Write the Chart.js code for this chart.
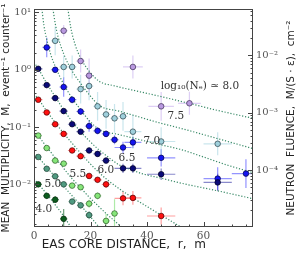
<!DOCTYPE html>
<html>
<head>
<meta charset="utf-8">
<script src="https://cdn.jsdelivr.net/npm/chart.js@4.4.1/dist/chart.umd.min.js"></script>
<style>
  html, body { margin: 0; padding: 0; background: #fff; }
</style>
</head>
<body>
<canvas id="chart" width="299" height="253"></canvas>
<script>
// core distance r (m), mean multiplicity M, error half-widths (dr in m, dm in decades)
const r40 = [1.5, 4.5, 7.5, 10.5];
const m40 = [0.0100, 0.0063, 0.0054, 0.0025];
const dr40 = [1.3, 1.3, 1.3, 1.3];
const dm40 = [0.04, 0.05, 0.06, 0.17];

const r50 = [1.5, 4.5, 7.5, 10.5, 13.5, 16.5, 19.5];
const m50 = [0.030, 0.0187, 0.0138, 0.0100, 0.0050, 0.0043, 0.0029];
const dr50 = [1.3, 1.3, 1.3, 1.3, 1.3, 1.3, 1.3];
const dm50 = [0.03, 0.03, 0.03, 0.04, 0.05, 0.05, 0.07];

const r55 = [1.5, 4.5, 7.5, 10.5, 13.5, 16.5, 19.5, 22.5, 25.5, 28.5];
const m55 = [0.071, 0.043, 0.026, 0.023, 0.0095, 0.0089, 0.0046, 0.0063, 0.0023, 0.0031];
const dr55 = [1.3, 1.3, 1.3, 1.3, 1.3, 1.3, 1.3, 1.3, 1.3, 1.3];
const dm55 = [0.03, 0.03, 0.03, 0.04, 0.04, 0.05, 0.07, 0.06, 0.12, 0.25];

const r60 = [1.5, 4.5, 7.5, 10.5, 13.5, 16.5, 19.5, 22.5, 25.5, 31.5, 35, 45];
const m60 = [0.30, 0.18, 0.112, 0.076, 0.039, 0.031, 0.014, 0.012, 0.010, 0.0057, 0.0058, 0.0028];
const dr60 = [1.5, 1.5, 1.5, 1.5, 1.5, 1.5, 1.5, 1.5, 1.5, 3, 3, 5];
const dm60 = [0.03, 0.03, 0.03, 0.03, 0.04, 0.04, 0.05, 0.05, 0.06, 0.12, 0.12, 0.15];

const r65 = [1.5, 4.5, 7.5, 10.5, 13.5, 16.5, 19.5, 22.5, 25.5, 31.5, 35, 45, 65];
const m65 = [1.04, 0.54, 0.32, 0.19, 0.112, 0.083, 0.039, 0.034, 0.026, 0.019, 0.019, 0.015, 0.0108];
const dr65 = [1.5, 1.5, 1.5, 1.5, 1.5, 1.5, 1.5, 1.5, 1.5, 3, 3, 5, 5];
const dm65 = [0.03, 0.03, 0.03, 0.03, 0.04, 0.04, 0.05, 0.05, 0.05, 0.08, 0.08, 0.1, 0.15];

const r70 = [4.5, 7.5, 10.5, 13.5, 16.5, 19.5, 22.5, 25.5, 28.5, 31.5, 35, 45, 65, 75];
const m70 = [2.45, 1.0, 0.50, 0.30, 0.187, 0.104, 0.086, 0.076, 0.060, 0.044, 0.054, 0.029, 0.0126, 0.0154];
const dr70 = [1.5, 1.5, 1.5, 1.5, 1.5, 1.5, 1.5, 1.5, 1.5, 3, 3, 5, 5, 5];
const dm70 = [0.17, 0.05, 0.17, 0.06, 0.06, 0.1, 0.06, 0.06, 0.08, 0.1, 0.1, 0.15, 0.2, 0.25];

const r75 = [7.5, 10.5, 13.5, 16.5, 19.5, 22.5, 25.5, 28.5, 31.5, 35, 45, 65];
const m75 = [3.2, 1.12, 1.12, 0.46, 0.52, 0.23, 0.166, 0.142, 0.154, 0.083, 0.056, 0.051];
const dr75 = [1.5, 1.5, 1.5, 1.5, 1.5, 1.5, 1.5, 1.5, 1.5, 3, 5, 5];
const dm75 = [0.25, 0.2, 0.2, 0.25, 0.25, 0.25, 0.25, 0.25, 0.25, 0.3, 0.25, 0.2];

const r80 = [10.5, 16.5, 19.5, 35, 45, 55];
const m80 = [4.8, 1.42, 0.79, 1.12, 0.23, 0.26];
const dr80 = [1.5, 1.5, 1.5, 3.5, 4.5, 4];
const dm80 = [0.1, 0.2, 0.3, 0.2, 0.25, 0.2];

// fitted curves
const fitR40 = [0, 1.5, 4.5, 7.5, 10.5, 13];
const fitM40 = [0.0125, 0.0102, 0.0068, 0.0044, 0.0028, 0.0018];
const fitR50 = [0, 1.5, 4.5, 7.5, 10.5, 13.5, 16.5, 19.5, 23];
const fitM50 = [0.036, 0.030, 0.020, 0.0135, 0.0092, 0.0063, 0.0043, 0.0029, 0.0018];
const fitR55 = [0, 1.5, 4.5, 7.5, 10.5, 13.5, 16.5, 19.5, 22.5, 25.5, 28.5, 31.5];
const fitM55 = [0.085, 0.07, 0.045, 0.029, 0.019, 0.0125, 0.0087, 0.006, 0.0043, 0.0031, 0.0023, 0.0017];
const fitR60 = [0, 1.5, 4.5, 7.5, 10.5, 13.5, 16.5, 19.5, 22.5, 25.5, 30, 35, 40, 45, 52];
const fitM60 = [0.38, 0.31, 0.19, 0.12, 0.078, 0.052, 0.035, 0.024, 0.017, 0.0125, 0.0085, 0.0058, 0.0041, 0.0029, 0.0018];
const fitR65 = [0, 1.5, 4.5, 7.5, 10.5, 13.5, 16.5, 19.5, 22.5, 25.5, 30, 35, 38.5, 45, 51.6, 65, 77.5];
const fitM65 = [1.35, 1.05, 0.58, 0.34, 0.20, 0.125, 0.083, 0.058, 0.042, 0.032, 0.022, 0.0175, 0.0152, 0.0128, 0.0106, 0.0077, 0.0056];
const fitR70 = [2.8, 3.5, 4.5, 6, 7.5, 10.5, 13.5, 16.5, 19.5, 23.3, 30, 37, 44, 51.6, 60, 68, 77.5];
const fitM70 = [11.5, 6.0, 3.4, 1.8, 1.15, 0.56, 0.32, 0.2, 0.13, 0.09, 0.074, 0.061, 0.050, 0.041, 0.030, 0.022, 0.016];
const fitR75 = [6.7, 7.5, 8.5, 10.5, 13.5, 16.5, 19.5, 23.3, 30, 37, 44, 51.6, 65.4, 77.5];
const fitM75 = [11.5, 6.5, 3.8, 1.9, 0.95, 0.58, 0.37, 0.235, 0.19, 0.151, 0.12, 0.096, 0.062, 0.042];
const fitR80 = [12, 13, 14.5, 16.5, 19.5, 23.3, 28, 35, 45, 55.5, 65, 77.5];
const fitM80 = [11.5, 5.5, 2.8, 1.6, 0.95, 0.62, 0.53, 0.44, 0.34, 0.255, 0.195, 0.142];

// curve labels: log10(Ne) values and where they sit
const curveLabels = ['4.0', '5.0', '5.5', '6.0', '6.5', '7.0', '7.5', 'log\u2081\u2080(N\u2091) \u2243 8.0'];
const labelR = [3.5, 6.7, 15.5, 25.4, 32.9, 41.7, 50.2, 58.7];
const labelM = [0.0036, 0.0100, 0.0148, 0.0173, 0.029, 0.056, 0.154, 0.52];

const xTicks = [0, 20, 40, 60];
const yTickLabels = {'10': '10\u00b9', '1': '10\u2070', '0.1': '10\u207b\u00b9', '0.01': '10\u207b\u00b2'};
const y2TickLabels = {'0.01': '10\u207b\u00b2', '0.001': '10\u207b\u00b3', '0.0001': '10\u207b\u2074'};

const fluencePerM = Math.pow(10, -2.25);
const yMin = 0.0018, yMax = 11.5;

const pts = (rs, ms) => rs.map((r, i) => ({x: r, y: ms[i]}));

function series(label, rs, ms, drs, dms, fill, edge, errColor) {
    return {
        type: 'scatter', label: label, data: pts(rs, ms), order: 1,
        backgroundColor: fill, borderColor: edge, borderWidth: 0.7,
        pointRadius: 2.8, err: {dr: drs, dm: dms, color: errColor}
    };
}
function fit(rs, ms) {
    return {
        type: 'line', data: pts(rs, ms), order: 2, showLine: true,
        borderColor: '#3a8a68', borderWidth: 1.2, borderDash: [1.2, 1.8],
        pointRadius: 0, cubicInterpolationMode: 'monotone', fill: false
    };
}

const errorBars = {
    id: 'errorBars',
    beforeDatasetsDraw(chart) {
        const {ctx, chartArea: a, scales: {x, y}} = chart;
        ctx.save();
        ctx.beginPath(); ctx.rect(a.left, a.top, a.right - a.left, a.bottom - a.top); ctx.clip();
        chart.data.datasets.forEach(ds => {
            if (!ds.err) return;
            ctx.strokeStyle = ds.err.color;
            ctx.lineWidth = 1.2;
            ds.data.forEach((p, i) => {
                const px = x.getPixelForValue(p.x), py = y.getPixelForValue(p.y);
                const f = Math.pow(10, ds.err.dm[i]);
                ctx.beginPath();
                ctx.moveTo(x.getPixelForValue(p.x - ds.err.dr[i]), py);
                ctx.lineTo(x.getPixelForValue(p.x + ds.err.dr[i]), py);
                ctx.moveTo(px, y.getPixelForValue(p.y * f));
                ctx.lineTo(px, y.getPixelForValue(p.y / f));
                ctx.stroke();
            });
        });
        ctx.restore();
    }
};

const frame = {
    id: 'frame',
    afterDraw(chart) {
        const {ctx, chartArea: a, scales} = chart;
        ctx.save();
        ctx.strokeStyle = '#444';
        ctx.lineWidth = 1;
        ctx.strokeRect(a.left + 0.5, a.top + 0.5, a.right - a.left - 1, a.bottom - a.top - 1);
        const logTicks = (scale, x0, dir) => {
            const lo = Math.floor(Math.log10(scale.min)), hi = Math.ceil(Math.log10(scale.max));
            for (let e = lo; e <= hi; e++) {
                for (let k = 1; k < 10; k++) {
                    const v = k * Math.pow(10, e);
                    if (v < scale.min || v > scale.max) continue;
                    const yy = Math.round(scale.getPixelForValue(v)) + 0.5;
                    ctx.beginPath();
                    ctx.moveTo(x0, yy);
                    ctx.lineTo(x0 + dir * (k === 1 ? 5 : 2.5), yy);
                    ctx.stroke();
                }
            }
        };
        logTicks(scales.y, a.left, 1);
        logTicks(scales.y2, a.right, -1);
        for (let v = 0; v <= scales.x.max; v += 5) {
            const xx = Math.round(scales.x.getPixelForValue(v)) + 0.5;
            ctx.beginPath();
            ctx.moveTo(xx, a.bottom);
            ctx.lineTo(xx, a.bottom - (v % 20 === 0 ? 5 : 2.5));
            ctx.stroke();
        }
        // curve labels
        ctx.font = '10.5px "DejaVu Serif"';
        ctx.fillStyle = '#333';
        ctx.textAlign = 'center';
        ctx.textBaseline = 'middle';
        curveLabels.forEach((t, i) => {
            ctx.fillText(t, scales.x.getPixelForValue(labelR[i]), scales.y.getPixelForValue(labelM[i]));
        });
        // right axis title, reading bottom to top
        ctx.font = '10.5px "DejaVu Sans"';
        ctx.fillStyle = '#222';
        ctx.translate(291, (a.top + a.bottom) / 2);
        ctx.rotate(-Math.PI / 2);
        ctx.fillText('NEUTRON  FLUENCE,  M/(S \u00b7 \u03b5),  cm\u207b\u00b2', 0, 0);
        ctx.restore();
    }
};

const isDecade = v => Math.abs(Math.log10(v) - Math.round(Math.log10(v))) < 1e-6;

new Chart(document.getElementById('chart'), {
    data: {
        datasets: [
            fit(fitR40, fitM40), fit(fitR50, fitM50), fit(fitR55, fitM55), fit(fitR60, fitM60),
            fit(fitR65, fitM65), fit(fitR70, fitM70), fit(fitR75, fitM75), fit(fitR80, fitM80),
            series('4.0', r40, m40, dr40, dm40, '#0b5d1e', '#0a2a10', 'rgba(11,93,30,0.6)'),
            series('5.0', r50, m50, dr50, dm50, '#4f9a80', '#1f3f33', 'rgba(79,154,128,0.55)'),
            series('5.5', r55, m55, dr55, dm55, '#86e67a', '#2f5a2a', 'rgba(120,220,110,0.6)'),
            series('6.0', r60, m60, dr60, dm60, '#ff1010', '#4a0000', 'rgba(255,80,80,0.55)'),
            series('6.5', r65, m65, dr65, dm65, '#0a0a78', '#000020', 'rgba(40,40,160,0.55)'),
            series('7.0', r70, m70, dr70, dm70, '#1414f0', '#000040', 'rgba(60,60,255,0.55)'),
            series('7.5', r75, m75, dr75, dm75, '#9fd0dc', '#2a3f46', 'rgba(150,205,220,0.5)'),
            series('8.0', r80, m80, dr80, dm80, '#b999e0', '#3a2a50', 'rgba(190,160,235,0.5)')
        ]
    },
    options: {
        responsive: false,
        animation: false,
        devicePixelRatio: 1,
        layout: {padding: {top: 2, left: 0, right: 0, bottom: 0}},
        plugins: {legend: {display: false}, tooltip: {enabled: false}},
        scales: {
            x: {
                type: 'linear', position: 'bottom', min: 0, max: 77.5,
                grid: {display: false, drawTicks: false},
                border: {display: false},
                ticks: {
                    stepSize: 20, padding: 3, color: '#555', font: {family: 'DejaVu Serif', size: 10.5},
                    callback: v => xTicks.includes(v) ? String(v) : ''
                },
                title: {display: true, text: '  EAS CORE DISTANCE,  r,  m', color: '#222', align: 'start',
                        font: {family: 'DejaVu Sans', size: 12}, padding: {top: 0, bottom: 1}},
                afterFit: s => { s.height = 26; }
            },
            y: {
                type: 'logarithmic', position: 'left', min: yMin, max: yMax,
                grid: {display: false, drawTicks: false},
                border: {display: false},
                ticks: {
                    autoSkip: false, padding: 3, color: '#555', font: {family: 'DejaVu Serif', size: 10},
                    callback: v => isDecade(v) ? (yTickLabels[String(Math.pow(10, Math.round(Math.log10(v))))] || '') : ''
                },
                title: {display: true, text: 'MEAN  MULTIPLICITY,  M,  event\u207b\u00b9 counter\u207b\u00b9', color: '#222',
                        font: {family: 'DejaVu Sans', size: 10.5}, padding: {top: 0, bottom: 0}},
                afterFit: s => { s.width = 34; }
            },
            y2: {
                type: 'logarithmic', position: 'right', min: yMin * fluencePerM, max: yMax * fluencePerM,
                grid: {display: false, drawTicks: false},
                border: {display: false},
                ticks: {
                    autoSkip: false, padding: 3, color: '#555', font: {family: 'DejaVu Serif', size: 10},
                    callback: v => isDecade(v) ? (y2TickLabels[String(Math.pow(10, Math.round(Math.log10(v))))] || '') : ''
                },
                afterFit: s => { s.width = 46; }
            }
        }
    },
    plugins: [errorBars, frame]
});
</script>
</body>
</html>
